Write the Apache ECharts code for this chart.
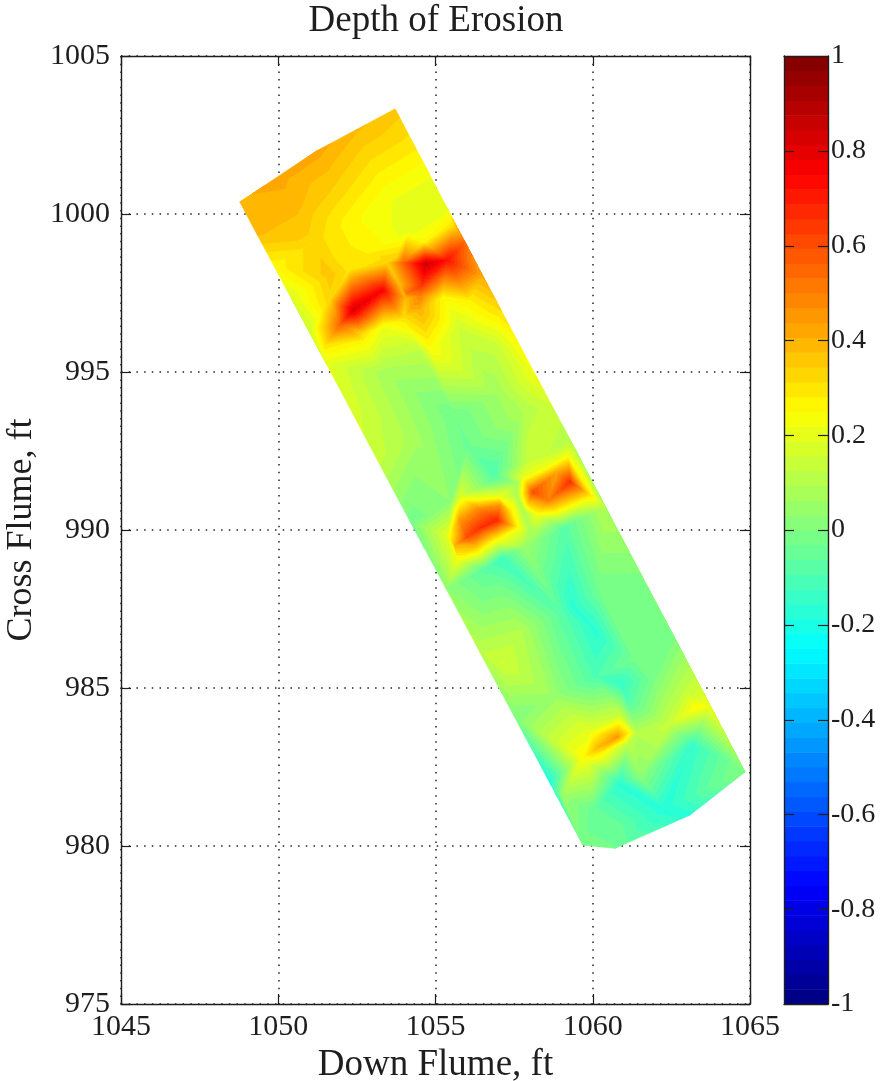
<!DOCTYPE html>
<html><head><meta charset="utf-8">
<style>html,body{margin:0;padding:0;background:#fff}#c{width:881px;height:1081px}</style>
<script src="https://cdn.jsdelivr.net/npm/echarts@6/dist/echarts.min.js"></script>
</head><body><div id="c"></div>
<script>
// Survey points: down flume (ft), cross flume (ft), depth of erosion (ft)
const pointX = [
1048.78,1050.02,1051.23,1052.47,1053.71,
1049.32,1050.56,1051.80,1053.04,1054.25,
1049.87,1051.10,1052.35,1053.59,1054.82,
1050.41,1051.65,1052.89,1054.13,1055.37,
1050.98,1054.70,1055.94,
1051.52,1052.76,1053.98,1055.24,1056.48,
1052.06,1053.30,1054.54,1055.81,1057.05,
1053.14,1054.41,1055.65,1056.92,1058.16,
1054.22,1055.49,1056.76,1058.00,1059.28,
1055.33,1056.60,1057.84,1059.12,1060.39,
1056.41,1057.69,1058.96,1060.23,1061.50,
1057.50,1058.77,1060.07,1061.34,1062.62,
1058.61,1059.88,1061.15,1062.42,1063.73,
1059.69,1060.71,1063.09,1064.84,1060.96,1062.27,
1051.49,1051.49,1052.69,1053.46,1052.28,1054.19,1052.38,1053.33,
1053.71,1055.56,1056.10,1054.51,1055.36,1057.59,1054.82,1053.33,
1056.00,1056.83,
1055.40,1055.72,1055.78,1057.05,1057.69,1056.00,1056.95,1056.41,1056.95,1056.41,
1058.10,1059.28,1059.21,1057.78,1058.23,1059.91,1058.54,1057.59,1058.23,1057.11,1059.37,
1059.69,1060.13,1060.77,1061.09,1060.87,1059.91,1060.23,1059.05,1061.41,
1063.31,1063.16,1064.36,1063.79,1060.87,1057.15,1060.87,1061.09,1060.13,1062.04,1062.87,1060.01,
1053.87,1054.06,1053.96,1054.09,1054.63,1051.65,
1058.58,1058.86,1057.95,1057.94,
1055.78,1055.62,1056.41,1057.05,1057.37,1056.26,
1061.50,
1057.59,1057.81,1058.00,
1056.89,1057.85,1058.70,
1054.57,1054.53,1051.96,1056.10
];
const pointY = [
1000.38,1001.17,1002.00,1002.66,1003.32,
999.37,1000.09,1000.82,1001.55,1002.28,
998.35,999.08,999.81,1000.50,1001.23,
997.34,998.04,998.76,999.46,1000.19,
996.30,998.42,999.11,
995.28,995.98,996.68,997.37,998.07,
994.27,994.97,995.63,996.33,997.02,
992.24,992.91,993.61,994.27,994.94,
990.22,990.88,991.55,992.18,992.85,
988.16,988.80,989.46,990.09,990.72,
986.14,986.77,987.40,988.00,988.64,
984.11,984.71,985.35,985.95,986.55,
982.05,982.66,983.26,983.83,984.43,
980.03,979.93,980.98,982.34,980.60,981.20,
997.06,995.85,996.23,998.45,998.23,996.96,996.96,997.59,
998.54,999.65,998.64,996.96,998.54,996.01,995.79,996.42,
992.62,991.80,
989.84,989.05,991.04,991.04,990.06,989.78,990.31,990.06,989.68,990.95,
991.20,991.52,992.37,991.64,990.47,991.11,991.99,991.48,990.09,989.11,987.56,
982.81,983.10,983.45,983.57,984.14,983.60,982.94,981.55,983.60,
984.40,983.19,982.72,981.86,981.99,985.79,985.15,984.62,986.74,985.34,984.93,981.14,
997.75,997.34,998.45,997.50,999.11,997.28,
990.94,991.83,990.85,991.42,
990.31,989.52,990.63,990.79,990.63,989.52,
982.24,
991.10,990.57,990.00,
995.85,993.80,993.89,
997.75,997.43,996.49,997.28
];
const pointZ = [
.40,.42,.42,.38,.36,
.38,.38,.34,.30,.30,
.26,.33,.26,.22,.22,
.18,.36,.28,.20,.20,
.15,.85,.55,
.20,.26,.30,.26,.42,
.18,.08,.12,.15,.32,
.14,.07,-.03,.06,.22,
-.02,.03,-.05,.15,.10,
.03,-.08,.05,-.08,.10,
.12,.10,-.08,-.03,.00,
.00,.05,-.10,-.02,.00,
-.20,.20,.12,.14,.22,
-.02,-.03,-.17,.00,-.06,-.18,
.30,.30,.32,.33,.30,.40,.82,.75,
.35,.30,.50,.40,.72,.25,.25,.22,
-.04,-.10,
.20,.22,.18,.22,.22,.60,.68,.66,.24,.25,
.60,.66,.22,.20,.22,.30,.22,.06,.10,-.13,-.17,
.25,.38,.45,.30,.14,.20,.28,.05,.10,
.25,-.15,-.03,-.05,-.17,.16,-.15,-.10,-.17,.00,.12,-.05,
.38,.38,.55,.52,.26,.33,
.50,.42,.35,.40,
.45,.40,.50,.45,.30,.40,
.03,
.08,.08,.08,
.14,.10,.15,
.65,.50,.55,.28
];
const xTicks = [1045, 1065], yTicks = [975, 1005], barRange = [-1, 1];
const barTicks = [-.8,-.6,-.4,-.2,0,.2,.4,.6,.8];
const titleText = 'Depth of Erosion', xName = 'Down Flume, ft', yName = 'Cross Flume, ft';
const bandCount = 64;

const clamp = v => Math.max(0, Math.min(1, v));
function jet(t) {
  const c = f => Math.round(255 * clamp(f));
  return `rgb(${c(Math.min(4*t-1.5,-4*t+4.5))},${c(Math.min(4*t-.5,-4*t+3.5))},${c(Math.min(4*t+.5,-4*t+2.5))})`;
}
const bandStep = (barRange[1] - barRange[0]) / bandCount;
const bands = Array.from({length: bandCount}, (_, i) => [barRange[0] + i*bandStep, barRange[0] + (i+1)*bandStep]);
const bandColor = i => jet((i + .5) / bandCount);

// Delaunay triangulation of the survey points (as griddata does)
function delaunay(xs, ys) {
  const n = xs.length, X = xs.concat([1055-400, 1055+400, 1055]), Y = ys.concat([990-300, 990-300, 990+500]);
  let tris = [[n, n+1, n+2]];
  const inCirc = (t, p) => {
    const [a,b,c] = t;
    const ax=X[a]-X[p], ay=Y[a]-Y[p], bx=X[b]-X[p], by=Y[b]-Y[p], cx=X[c]-X[p], cy=Y[c]-Y[p];
    const d=(ax*ax+ay*ay)*(bx*cy-cx*by)-(bx*bx+by*by)*(ax*cy-cx*ay)+(cx*cx+cy*cy)*(ax*by-bx*ay);
    const o=(X[b]-X[a])*(Y[c]-Y[a])-(Y[b]-Y[a])*(X[c]-X[a]);
    return o>0 ? d>0 : d<0;
  };
  for (let p=0;p<n;p++) {
    const bad=[], keep=[];
    tris.forEach(t=>(inCirc(t,p)?bad:keep).push(t));
    const edges={};
    bad.forEach(t=>[[t[0],t[1]],[t[1],t[2]],[t[2],t[0]]].forEach(([u,v])=>{
      const k=Math.min(u,v)+'_'+Math.max(u,v);
      edges[k]=edges[k]?{n:2}:{n:1,u,v};
    }));
    Object.values(edges).forEach(e=>{ if(e.n===1) keep.push([e.u,e.v,p]); });
    tris=keep;
  }
  return tris.filter(t=>t.every(i=>i<n));
}
const triangles = delaunay(pointX, pointY);

// clip one triangle to a value band
function clipBand(poly, lo, hi) {
  const cut=(pts,keep,lev)=>{
    const out=[];
    pts.forEach((a,i)=>{
      const b=pts[(i+1)%pts.length], ka=keep(a[2]), kb=keep(b[2]);
      if(ka) out.push(a);
      if(ka!==kb){ const f=(lev-a[2])/(b[2]-a[2]); out.push([a[0]+f*(b[0]-a[0]),a[1]+f*(b[1]-a[1]),lev]); }
    });
    return out;
  };
  let r=cut(poly,z=>z>=lo,lo);
  if(r.length) r=cut(r,z=>z<=hi,hi);
  return r;
}
function renderContour(params, api) {
  const ids=[api.value(0),api.value(1),api.value(2)];
  const tri=ids.map(i=>[pointX[i],pointY[i],pointZ[i]]);
  const zs=tri.map(p=>p[2]), zmin=Math.min(...zs), zmax=Math.max(...zs);
  const children=[];
  bands.forEach(([lo,hi],i)=>{
    if(hi<zmin||lo>zmax) return;
    const poly=clipBand(tri,lo,hi);
    if(poly.length<3) return;
    const col=bandColor(i);
    children.push({type:'polygon',shape:{points:poly.map(p=>api.coord([p[0],p[1]]))},
      style:{fill:col,stroke:col,lineWidth:.8},silent:true});
  });
  return {type:'group',children};
}
function renderBar(params, api) {
  const lo=api.value(0), hi=api.value(1);
  const a=api.coord([0,hi]), b=api.coord([1,lo]);
  return {type:'rect',shape:{x:a[0],y:a[1],width:b[0]-a[0],height:b[1]-a[1]+.5},
    style:{fill:bandColor(params.dataIndex)},silent:true};
}
const ink='#1e1e1e', font='Liberation Serif';
function renderBarTick(params, api) {
  const v=api.value(0), a=api.coord([0,v]), b=api.coord([1,v]), y=Math.round(a[1])+.5;
  const seg=(x1,x2)=>({type:'line',shape:{x1,y1:y,x2,y2:y},style:{stroke:ink,lineWidth:1.2},silent:true});
  return {type:'group',children:[seg(a[0],a[0]+10),seg(b[0]-10,b[0])]};
}

const tick={show:true,inside:true,length:10,lineStyle:{color:ink,width:1.2}};
const line={show:true,onZero:false,lineStyle:{color:ink,width:1.4}};
const lab={color:ink,fontFamily:font,fontSize:30};
const dotted={show:true,lineStyle:{color:'#222',width:1.5,type:[1.5,6.2]}};
const plain=v=>String(+v.toFixed(1));

const chart=echarts.init(document.getElementById('c'),null,{renderer:'canvas'});
chart.setOption({
  animation:false,
  backgroundColor:'#fff',
  title:{text:titleText,left:431,top:-2,textAlign:'center',
    textStyle:{color:ink,fontFamily:font,fontSize:37,fontWeight:'normal'}},
  grid:[
    {left:121,top:56,width:629,height:948,show:false,outerBoundsMode:'none',containLabel:false},
    {left:784,top:56,width:44,height:948,show:false,outerBoundsMode:'none',containLabel:false}
  ],
  xAxis:[
    {gridIndex:0,type:'value',min:xTicks[0],max:xTicks[1],interval:5,position:'bottom',
      name:xName,nameLocation:'middle',nameGap:42,nameTextStyle:{color:ink,fontFamily:font,fontSize:37},
      axisLine:line,axisTick:tick,axisLabel:{...lab,margin:8,formatter:plain,hideOverlap:false,showMinLabel:true,showMaxLabel:true},splitLine:dotted},
    {gridIndex:0,type:'value',min:xTicks[0],max:xTicks[1],interval:5,position:'top',
      axisLine:line,axisTick:tick,axisLabel:{show:false},splitLine:{show:false}},
    {gridIndex:1,type:'value',min:0,max:1,position:'bottom',z:10,axisLine:line,axisTick:{show:false},axisLabel:{show:false},splitLine:{show:false}},
    {gridIndex:1,type:'value',min:0,max:1,position:'top',z:10,axisLine:line,axisTick:{show:false},axisLabel:{show:false},splitLine:{show:false}}
  ],
  yAxis:[
    {gridIndex:0,type:'value',min:yTicks[0],max:yTicks[1],interval:5,position:'left',
      name:yName,nameLocation:'middle',nameGap:75,nameTextStyle:{color:ink,fontFamily:font,fontSize:36},
      axisLine:line,axisTick:tick,axisLabel:{...lab,margin:11,formatter:plain,showMinLabel:true,showMaxLabel:true},splitLine:dotted},
    {gridIndex:0,type:'value',min:yTicks[0],max:yTicks[1],interval:5,position:'right',
      axisLine:line,axisTick:tick,axisLabel:{show:false},splitLine:{show:false}},
    {gridIndex:1,type:'value',min:barRange[0],max:barRange[1],interval:.2,position:'right',z:10,
      axisLine:line,axisTick:{show:false},splitLine:{show:false},
      axisLabel:{...lab,fontSize:28,margin:3,showMinLabel:true,showMaxLabel:true,formatter:plain}},
    {gridIndex:1,type:'value',min:barRange[0],max:barRange[1],interval:.2,position:'left',z:10,
      axisLine:line,axisTick:{show:false},axisLabel:{show:false},splitLine:{show:false}}
  ],
  series:[
    {type:'custom',xAxisIndex:0,yAxisIndex:0,coordinateSystem:'cartesian2d',renderItem:renderContour,
      data:triangles,clip:false,silent:true,z:2,progressive:0},
    {type:'custom',xAxisIndex:2,yAxisIndex:2,coordinateSystem:'cartesian2d',renderItem:renderBar,
      data:bands,encode:{y:[0,1]},silent:true,z:1,progressive:0},
    {type:'custom',xAxisIndex:2,yAxisIndex:2,coordinateSystem:'cartesian2d',renderItem:renderBarTick,
      data:barTicks.map(v=>[v]),encode:{y:0},clip:false,silent:true,z:5,progressive:0}
  ]
});
</script></body></html>
